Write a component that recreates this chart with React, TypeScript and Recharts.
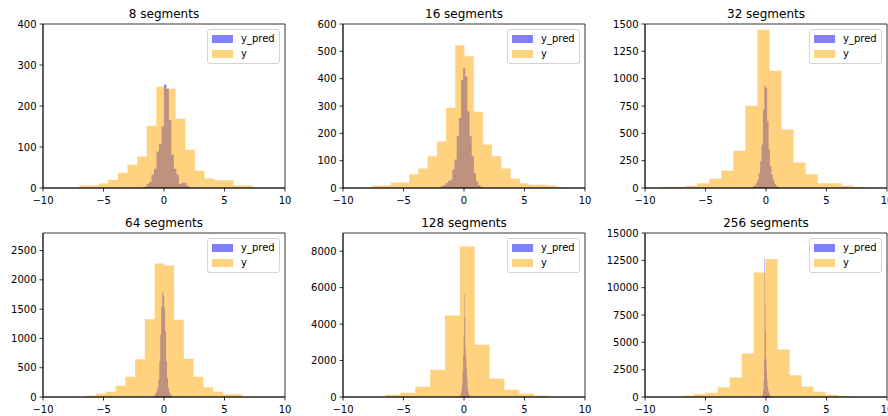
import { ComposedChart, Area, XAxis, YAxis, Legend, ReferenceArea } from "recharts";

const FONT = "'DejaVu Sans', sans-serif";

// histogram counts, bins spread evenly over [lo, hi]
const pred8Range = [-1.85, 2.25];
const pred8 = [2, 3, 10, 15, 33, 47, 89, 108, 150, 252, 242, 165, 81, 47, 33, 10, 12, 13, 6, 2];
const y8Range = [-7.0, 7.33];
const y8 = [6, 6, 11, 20, 37, 57, 77, 152, 247, 242, 169, 93, 42, 23, 19, 19, 6, 6];

const pred16Range = [-2.03, 1.53];
const pred16 = [5, 7, 12, 18, 26, 30, 67, 104, 189, 256, 396, 439, 408, 280, 189, 116, 55, 24, 11, 5];
const y16Range = [-7.58, 8.42];
const y16 = [8, 9, 20, 20, 50, 71, 116, 170, 294, 522, 482, 279, 159, 116, 71, 34, 17, 12, 12, 8, 4];

const pred32Range = [-1.19, 1.15];
const pred32 = [6, 15, 24, 46, 76, 137, 244, 396, 716, 936, 915, 610, 351, 198, 122, 76, 40, 21, 12, 6];
const y32Range = [-8.67, 8.25];
const y32 = [9, 9, 21, 43, 85, 159, 341, 753, 1448, 1073, 534, 232, 125, 43, 43, 21, 9];

const pred64Range = [-0.87, 0.73];
const pred64 = [11, 34, 63, 97, 165, 290, 609, 1064, 1548, 1793, 1736, 1520, 1121, 609, 324, 154, 85, 51, 23, 11];
const y64Range = [-6.42, 6.48];
const y64 = [23, 57, 91, 194, 347, 644, 1327, 2278, 2244, 1321, 655, 347, 165, 91, 46, 46];

const pred128Range = [-0.38, 0.5];
const pred128 = [18, 55, 128, 238, 402, 768, 1408, 2323, 3420, 5652, 4335, 2689, 2140, 1591, 1043, 585, 311, 165, 91, 37];
const y128Range = [-6.48, 7.03];
const y128 = [128, 238, 568, 1501, 4467, 8256, 2874, 1007, 403, 183, 73];

const pred256Range = [-0.37, 0.456];
const pred256 = [30, 91, 274, 671, 1433, 3415, 12652, 8445, 6006, 3567, 2348, 1585, 976, 671, 457, 305, 213, 122, 61, 30];
const y256Range = [-6.96, 6.9];
const y256 = [122, 245, 398, 888, 1775, 3979, 11387, 12611, 4347, 1990, 949, 490, 214, 92];

const xTicks = [-10, -5, 0, 5, 10];
const yTicks8 = [0, 100, 200, 300, 400];
const yTicks16 = [0, 100, 200, 300, 400, 500, 600];
const yTicks32 = [0, 250, 500, 750, 1000, 1250, 1500];
const yTicks64 = [0, 500, 1000, 1500, 2000, 2500];
const yTicks128 = [0, 2000, 4000, 6000, 8000];
const yTicks256 = [0, 2500, 5000, 7500, 10000, 12500, 15000];

type Hist = { x: number; pred?: number; y?: number };

function histPoints(range: number[], counts: number[], key: "pred" | "y"): Hist[] {
  const [lo, hi] = range;
  const w = (hi - lo) / counts.length;
  const pts: Hist[] = counts.map((c, i) => ({ x: lo + i * w, [key]: c }));
  pts.push({ x: hi, [key]: counts[counts.length - 1] });
  return pts;
}

const panels = [
  { title: "8 segments", left: 43, top: 24, pr: pred8Range, p: pred8, yr: y8Range, y: y8, yMax: 400, yTicks: yTicks8 },
  { title: "16 segments", left: 343, top: 24, pr: pred16Range, p: pred16, yr: y16Range, y: y16, yMax: 600, yTicks: yTicks16 },
  { title: "32 segments", left: 645, top: 24, pr: pred32Range, p: pred32, yr: y32Range, y: y32, yMax: 1500, yTicks: yTicks32 },
  { title: "64 segments", left: 43, top: 233, pr: pred64Range, p: pred64, yr: y64Range, y: y64, yMax: 2800, yTicks: yTicks64 },
  { title: "128 segments", left: 343, top: 233, pr: pred128Range, p: pred128, yr: y128Range, y: y128, yMax: 9000, yTicks: yTicks128 },
  { title: "256 segments", left: 645, top: 233, pr: pred256Range, p: pred256, yr: y256Range, y: y256, yMax: 15000, yTicks: yTicks256 },
];

const AXIS_W = 242;
const AXIS_H = 164;
const YAXIS_W = 60;
const TOP = 24;

const legendColors: Record<string, string> = { pred: "#8080ff", y: "#ffd280" };
const legendOrder = ["pred", "y"];

function LegendBox(props: any) {
  const items = [...(props.payload || [])].sort(
    (a: any, b: any) => legendOrder.indexOf(a.dataKey) - legendOrder.indexOf(b.dataKey)
  );
  return (
    <div
      style={{
        position: "relative",
        width: 73,
        height: 35,
        boxSizing: "border-box",
        background: "rgba(255,255,255,0.8)",
        border: "1px solid #d4d4d4",
        borderRadius: 3,
        fontFamily: FONT,
        fontSize: 10,
        color: "#000",
      }}
    >
      {items.map((it: any, i: number) => (
        <div key={it.value}>
          <div
            style={{
              position: "absolute",
              left: 4,
              top: 5 + i * 15,
              width: 21,
              height: 8,
              background: legendColors[it.dataKey] || it.color,
            }}
          />
          <div style={{ position: "absolute", left: 33, top: 3 + i * 15, lineHeight: "12px", whiteSpace: "nowrap" }}>
            {it.value}
          </div>
        </div>
      ))}
    </div>
  );
}

const fmtX = (v: number) => (v < 0 ? `\u2212${Math.abs(v)}` : `${v}`);

function Panel({ cfg }: { cfg: (typeof panels)[number] }) {
  const data = [...histPoints(cfg.pr, cfg.p, "pred"), ...histPoints(cfg.yr, cfg.y, "y")].sort((a, b) => a.x - b.x);
  const divLeft = cfg.left - YAXIS_W;
  const right = divLeft + YAXIS_W + AXIS_W + 14 > 888 ? 888 - (divLeft + YAXIS_W + AXIS_W) : 14;
  const width = YAXIS_W + AXIS_W + right;
  const tick = { fontSize: 10, fill: "#000", fontFamily: FONT };
  return (
    <>
      <div
        style={{
          position: "absolute",
          left: cfg.left,
          top: cfg.top - 17,
          width: AXIS_W,
          textAlign: "center",
          fontFamily: FONT,
          fontSize: 12,
          lineHeight: "14px",
          color: "#000",
        }}
      >
        {cfg.title}
      </div>
      <div style={{ position: "absolute", left: divLeft, top: cfg.top - TOP }}>
        <ComposedChart width={width} height={TOP + AXIS_H + 22} data={data} margin={{ top: TOP, right, bottom: 0, left: 0 }}>
          <XAxis
            dataKey="x"
            type="number"
            domain={[-10, 10]}
            ticks={xTicks}
            allowDataOverflow
            height={22}
            stroke="#000"
            strokeWidth={0.8}
            tickSize={3.5}
            tickMargin={5}
            tick={tick}
            tickFormatter={fmtX}
            interval={0}
          />
          <YAxis
            type="number"
            domain={[0, cfg.yMax]}
            ticks={cfg.yTicks}
            allowDataOverflow
            width={YAXIS_W}
            stroke="#000"
            strokeWidth={0.8}
            tickSize={3.5}
            tickMargin={3}
            tick={tick}
            interval={0}
          />
          <Area
            dataKey="pred"
            name="y_pred"
            type="stepAfter"
            connectNulls
            stroke="none"
            fill="#0000ff"
            fillOpacity={0.5}
            dot={false}
            activeDot={false}
            isAnimationActive={false}
          />
          <Area
            dataKey="y"
            name="y"
            type="stepAfter"
            connectNulls
            stroke="none"
            fill="#ffa500"
            fillOpacity={0.5}
            dot={false}
            activeDot={false}
            isAnimationActive={false}
          />
          <ReferenceArea x1={-10} x2={10} y1={0} y2={cfg.yMax} fill="none" fillOpacity={0} stroke="#000" strokeWidth={0.8} />
          <Legend
            layout="vertical"
            align="center"
            verticalAlign="middle"
            content={LegendBox}
            wrapperStyle={{ left: YAXIS_W + AXIS_W - 78, top: TOP + 5, width: 73, height: 35 }}
          />
        </ComposedChart>
      </div>
    </>
  );
}

export default function App() {
  return (
    <div style={{ position: "absolute", left: 0, top: 0, width: 888, height: 416, overflow: "hidden", background: "#fff" }}>
      {panels.map((cfg) => (
        <Panel key={cfg.title} cfg={cfg} />
      ))}
    </div>
  );
}
